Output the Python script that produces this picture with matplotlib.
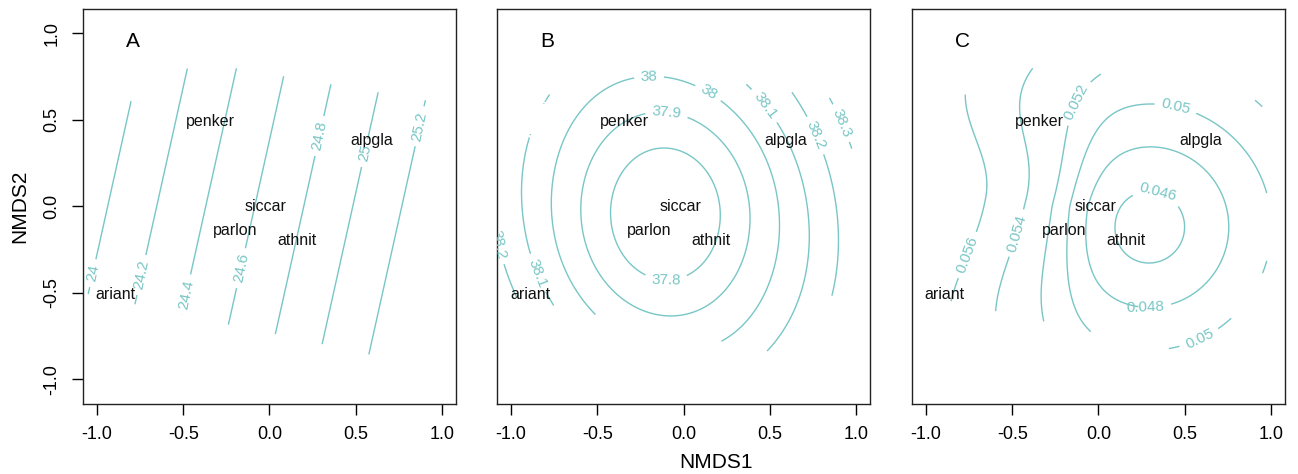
import numpy as np
import matplotlib.pyplot as plt
from matplotlib.path import Path

plt.rcParams['font.family'] = ['Liberation Sans', 'DejaVu Sans']
plt.rcParams['axes.unicode_minus'] = False

LINE_COL = '#79c6c6'

# species scores (label centres) on the NMDS axes
species = ['penker', 'alpgla', 'siccar', 'parlon', 'athnit', 'ariant']
species_x = [-0.34, 0.59, -0.02, -0.20, 0.16, -0.89]
species_y = [0.49, 0.38, 0.00, -0.14, -0.20, -0.51]

# outline of the site cloud, surfaces are only drawn inside it
hull_x = [-1.10, -1.10, -0.88, -0.79, -0.47, -0.19, 0.95, 0.98, 0.98, 0.62]
hull_y = [-0.50, -0.10, 0.44, 0.64, 0.80, 0.80, 0.61, 0.35, -0.35, -0.87]

# contour levels
levels_a = [24.0, 24.2, 24.4, 24.6, 24.8, 25.0, 25.2]
levels_b = [37.8, 37.9, 38.0, 38.1, 38.2, 38.3]
levels_c = [0.046, 0.048, 0.050, 0.052, 0.054, 0.056]

# where the contour labels sit
labels_a = [(-1.01, -0.39), (-0.73, -0.40), (-0.48, -0.51), (-0.155, -0.36),
            (0.293, 0.405), (0.563, 0.305), (0.872, 0.462)]
labels_b = [(-0.20, 0.757), (0.146, 0.66), (-0.10, 0.516), (-0.10, -0.37),
            (-0.858, -0.39), (0.474, 0.584), (-1.07, -0.22), (0.743, 0.40),
            (0.907, 0.478)]
labels_c = [(-0.757, -0.283), (-0.465, -0.158), (-0.092, 0.584), (0.454, 0.597),
            (0.59, -0.775), (0.272, -0.597), (0.33, 0.035)]

# fitted surface parameters
# A: plane
a_base, a_dx, a_dy = 24.66, 0.704, -0.157
# B: bowl in the middle, outer rings lean towards upper left / lower right
b_base, b_slope, b_cx, b_cy, b_stretch, b_tilt = 37.6, 0.6, -0.105, -0.045, 1.2, 0.3
# C: bowl on the right plus a shoulder on the left
c_base, c_slope, c_cx, c_cy = 0.0441, 0.0082, 0.29, -0.12
c_hump, c_front, c_width, c_top, c_wup, c_wdown = 0.004, -0.17, 0.075, 0.05, 0.53, 0.68


def surface_a(x, y):
    return a_base + a_dx * x + a_dy * y


def surface_b(x, y):
    dx, dy = x - b_cx, y - b_cy
    lean = np.minimum(dx ** 2 + dy ** 2, 0.7)
    q = dx ** 2 + (dy / b_stretch) ** 2 + b_tilt * dx * dy * lean
    return b_base + b_slope * np.sqrt(np.maximum(q, 0) + 0.01)


def surface_c(x, y):
    r = np.sqrt((x - c_cx) ** 2 + (y - c_cy) ** 2 + 0.01)
    front = c_front + 0.2 * np.maximum(y, 0)
    side = 1.0 / (1.0 + np.exp((x - front) / c_width))
    wy = np.where(y > c_top, c_wup, c_wdown)
    hump = c_hump * np.exp(-((y - c_top) / wy) ** 2) * side
    return c_base + c_slope * r + hump


gx = np.linspace(-1.12, 1.12, 341)
X, Y = np.meshgrid(gx, gx)
hull = Path(np.column_stack([hull_x, hull_y]))
inside = hull.contains_points(np.column_stack([X.ravel(), Y.ravel()])).reshape(X.shape)

fig = plt.figure(figsize=(12.98, 4.74), dpi=100)
panels = [('A', surface_a, levels_a, labels_a, 0.0639),
          ('B', surface_b, levels_b, labels_b, 0.3829),
          ('C', surface_c, levels_c, labels_c, 0.7026)]

for i, (letter, surf, levels, lab_pos, left) in enumerate(panels):
    ax = fig.add_axes([left, 0.1477, 0.2874, 0.8333])
    Z = np.ma.masked_where(~inside, surf(X, Y))
    cs = ax.contour(X, Y, Z, levels=levels, colors=LINE_COL, linewidths=1.0)
    ax.clabel(cs, manual=lab_pos, inline=True, inline_spacing=6, fontsize=11, fmt='%g')

    for name, sx, sy in zip(species, species_x, species_y):
        ax.text(sx, sy, name, ha='center', va='center', fontsize=11.5, color='#111111')
    ax.text(-0.79, 0.95, letter, ha='center', va='center', fontsize=15)

    ax.set_xlim(-1.081, 1.081)
    ax.set_ylim(-1.143, 1.14)
    ax.set_xticks([-1.0, -0.5, 0.0, 0.5, 1.0])
    ax.set_xticklabels(['-1.0', '-0.5', '0.0', '0.5', '1.0'])
    ax.tick_params(axis='x', direction='out', length=8, width=1.0, pad=8, labelsize=13)
    if i == 0:
        ax.set_yticks([-1.0, -0.5, 0.0, 0.5, 1.0])
        ax.set_yticklabels(['-1.0', '-0.5', '0.0', '0.5', '1.0'], rotation=90, va='center')
        ax.tick_params(axis='y', direction='out', length=8, width=1.0, pad=8, labelsize=13)
    else:
        ax.set_yticks([])
    for sp in ax.spines.values():
        sp.set_linewidth(1.0)
        sp.set_color('#222222')

fig.text(0.0154, 0.564, 'NMDS2', rotation=90, ha='center', va='center', fontsize=15)
fig.text(0.552, 0.024, 'NMDS1', ha='center', va='center', fontsize=15)

fig.savefig('out.png', dpi=100)
